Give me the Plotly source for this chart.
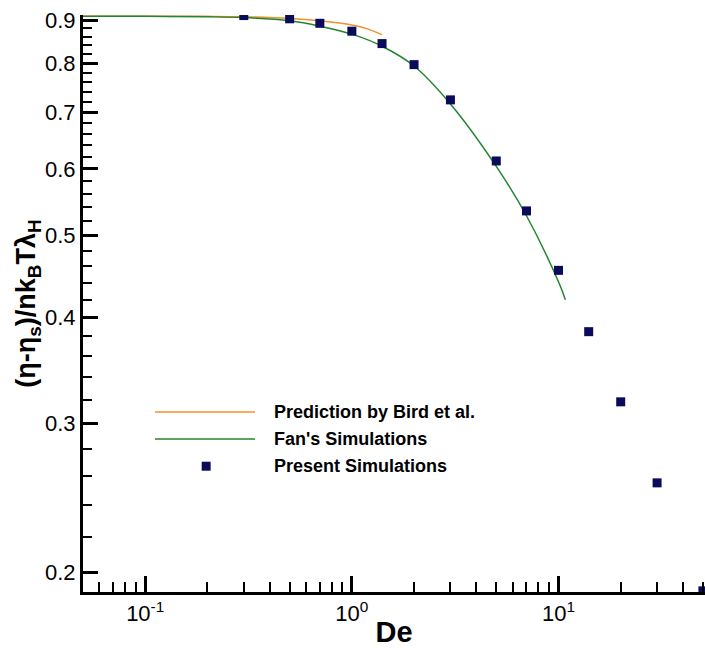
import math
import plotly.graph_objects as go

# ---- data ----
de_present = [0.3, 0.5, 0.7, 1.0, 1.4, 2, 3, 5, 7, 10, 14, 20, 30, 50]
eta_present = [0.911, 0.903, 0.892, 0.873, 0.844, 0.797, 0.724, 0.613, 0.535, 0.455, 0.385, 0.318, 0.255, 0.190]

de_bird = [0.05, 0.1, 0.2, 0.3, 0.5, 0.7, 1.0, 1.2, 1.4]
eta_bird = [0.909, 0.909, 0.909, 0.908, 0.904, 0.898, 0.888, 0.878, 0.865]

de_fan = [0.05, 0.1, 0.2, 0.3, 0.5, 0.7, 1.0, 1.4, 2, 3, 5, 7, 10, 10.8]
eta_fan = [0.909, 0.909, 0.908, 0.906, 0.898, 0.885, 0.866, 0.838, 0.794, 0.716, 0.604, 0.528, 0.441, 0.42]

names = ["Prediction by Bird et al.", "Fan's Simulations", "Present Simulations"]

x_tickvals = [0.1, 1, 10]
x_ticktext = ["10<sup>-1</sup>", "10<sup>0</sup>", "10<sup>1</sup>"]
y_tickvals = [0.2, 0.3, 0.4, 0.5, 0.6, 0.7, 0.8, 0.9]
y_ticktext = ["0.2", "0.3", "0.4", "0.5", "0.6", "0.7", "0.8", "0.9"]

x_minor = [d * 10 ** e for e in (-2, -1, 0, 1) for d in range(2, 10)]
y_minor = [round(0.2 + 0.02 * i, 2) for i in range(36)]
y_minor = [v for v in y_minor if round(v * 10, 6) % 1 != 0]

C_BIRD = "#f0932b"
C_FAN = "#23852f"
C_PRES = "#0b0b5c"
FONT = "Liberation Sans, Arial, sans-serif"

fig = go.Figure()
fig.add_trace(go.Scatter(x=de_bird, y=eta_bird, mode="lines", name=names[0],
                         line=dict(color=C_BIRD, width=1.5, shape="spline")))
fig.add_trace(go.Scatter(x=de_fan, y=eta_fan, mode="lines", name=names[1],
                         line=dict(color=C_FAN, width=1.5, shape="spline")))
fig.add_trace(go.Scatter(x=de_present, y=eta_present, mode="markers", name=names[2],
                         marker=dict(symbol="square", size=9, color=C_PRES,
                                     line=dict(width=0))))

# ---- hand-placed legend (long line samples as in the reference) ----
rows_y = [0.312, 0.265, 0.218]
for i, (nm, yy) in enumerate(zip(names, rows_y)):
    if i < 2:
        fig.add_shape(type="line", xref="paper", yref="paper",
                      x0=0.1158, x1=0.2765, y0=yy, y1=yy,
                      line=dict(color=[C_BIRD, C_FAN][i], width=1.5))
    else:
        fig.add_shape(type="rect", xref="paper", yref="paper",
                      x0=0.198 - 0.0072, x1=0.198 + 0.0072,
                      y0=yy - 0.0078, y1=yy + 0.0078,
                      fillcolor=C_PRES, line=dict(width=0))
    fig.add_annotation(x=0.304, y=yy, xref="paper", yref="paper", text=nm,
                       showarrow=False, xanchor="left", yanchor="middle",
                       font=dict(family=FONT, size=18, color="black", weight="bold"))

fig.update_xaxes(type="log", range=[math.log10(0.05), 1.709], automargin=False,
                 tickmode="array", tickvals=x_tickvals, ticktext=x_ticktext,
                 ticks="inside", ticklen=16, tickwidth=3, tickcolor="black",
                 showline=True, linewidth=3, linecolor="black", mirror=False,
                 showgrid=False, zeroline=False,
                 tickfont=dict(family=FONT, size=22, color="black"),
                 minor=dict(tickmode="array", tickvals=x_minor, ticks="inside",
                            ticklen=10, tickwidth=1.5, tickcolor="black", showgrid=False),
                 title=dict(text="De", standoff=4,
                            font=dict(family=FONT, size=29, color="black", weight="bold")))
fig.update_yaxes(type="log", range=[math.log10(0.1894), math.log10(0.9124)], automargin=False,
                 tickmode="array", tickvals=y_tickvals, ticktext=y_ticktext,
                 ticks="inside", ticklen=15, tickwidth=3, tickcolor="black",
                 showline=True, linewidth=3, linecolor="black", mirror=False,
                 showgrid=False, zeroline=False,
                 tickfont=dict(family=FONT, size=22, color="black"),
                 minor=dict(tickmode="array", tickvals=y_minor, ticks="inside",
                            ticklen=9, tickwidth=1.5, tickcolor="black", showgrid=False),
                 title=dict(text="(η-η<sub>s</sub>)/nk<sub>B</sub>Tλ<sub>H</sub>", standoff=2,
                            font=dict(family=FONT, size=27, color="black", weight="bold")))

fig.update_layout(width=705, height=648, autosize=False,
                  margin=dict(l=83, r=0, t=15, b=56),
                  paper_bgcolor="white", plot_bgcolor="white",
                  showlegend=False)

fig.write_html("out.html")
